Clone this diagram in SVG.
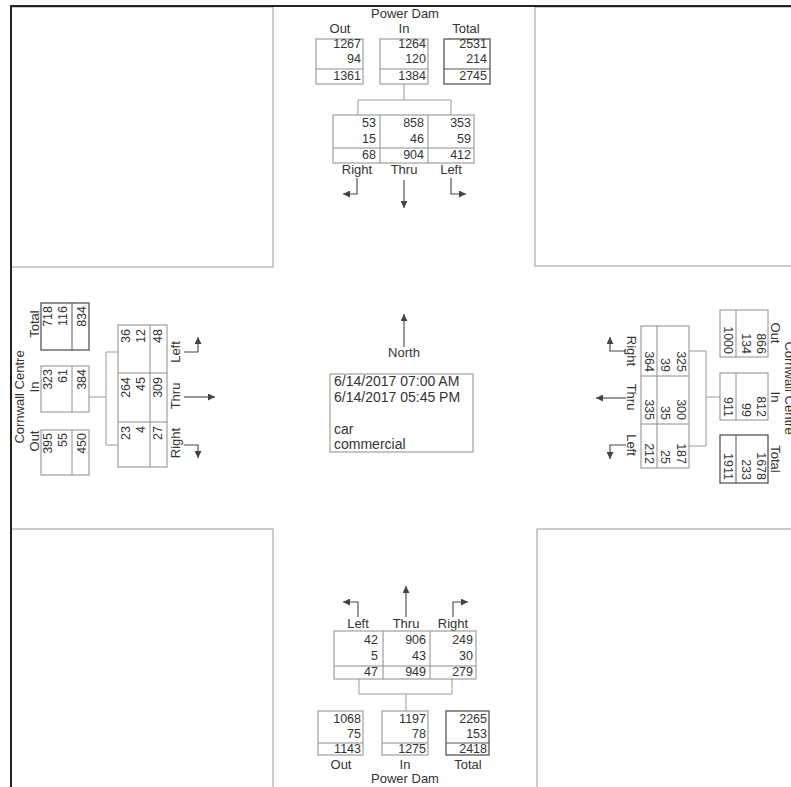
<svg xmlns="http://www.w3.org/2000/svg" width="791" height="787" viewBox="0 0 791 787">
<defs>
<marker id="ah" viewBox="0 0 10 10" refX="10" refY="5" markerWidth="7" markerHeight="7" orient="auto" markerUnits="userSpaceOnUse"><path d="M0,0 L10,5 L0,10 z" fill="#444"/></marker>
</defs>
<style>
.bg{fill:#fff}
.quad{fill:none;stroke:#9a9a9a;stroke-width:1}
.frame{fill:none;stroke:#222;stroke-width:2}
.box{fill:none;stroke:#8c8c8c;stroke-width:1}
.tbox{fill:none;stroke:#555;stroke-width:1.3}
.sep{stroke:#8c8c8c;stroke-width:1}
.t{font-family:"Liberation Sans",Arial,sans-serif;font-size:13px;fill:#333}
.i{font-size:14px}
.n{font-family:"Liberation Sans",Arial,sans-serif;font-size:12.5px;fill:#333;text-anchor:end}
.c{text-anchor:middle}
.con{fill:none;stroke:#9a9a9a;stroke-width:1}
.arr{fill:none;stroke:#444;stroke-width:1.1;marker-end:url(#ah)}
</style>
<rect class="bg" x="0" y="0" width="791" height="787"/>
<g id="background">
<rect class="quad" x="11" y="7" width="262" height="260"/>
<rect class="quad" x="535" y="7" width="260" height="259"/>
<rect class="quad" x="11" y="529" width="262" height="262"/>
<rect class="quad" x="537" y="529" width="260" height="262"/>
<path class="frame" d="M11,787 V6 H791"/>
</g>

<g id="connectors">
<path class="con" d="M404,84 V100 M358,115 V100 H451 V115"/>
<path class="con" d="M359,679 V694 H452 V679 M406,694 V711"/>
<path class="con" d="M89,397 H106 M117,352 H106 V445 H117"/>
<path class="con" d="M720,397 H706 M689,351 H706 V446 H689"/>
</g>

<g id="north-approach">
<text class="t c" x="405" y="18">Power Dam</text>
<text class="t c" x="340" y="33">Out</text>
<text class="t c" x="404" y="33">In</text>
<text class="t c" x="466" y="33">Total</text>
<rect class="box" x="316" y="39" width="47" height="45"/><line class="sep" x1="316" y1="69" x2="363" y2="69"/>
<rect class="box" x="380" y="39" width="48" height="45"/><line class="sep" x1="380" y1="69" x2="428" y2="69"/>
<rect class="tbox" x="444" y="39" width="46" height="45"/><line class="sep" x1="444" y1="69" x2="490" y2="69" style="stroke:#555"/>
<text class="n" x="361" y="48">1267</text><text class="n" x="361" y="63">94</text><text class="n" x="361" y="80">1361</text>
<text class="n" x="426" y="48">1264</text><text class="n" x="426" y="63">120</text><text class="n" x="426" y="80">1384</text>
<text class="n" x="487" y="48">2531</text><text class="n" x="487" y="63">214</text><text class="n" x="487" y="80">2745</text>
<rect class="box" x="333" y="115" width="141" height="48"/>
<path class="sep" d="M380,115 V163 M428,115 V163 M333,148 H474"/>
<text class="n" x="376" y="127">53</text><text class="n" x="376" y="143">15</text><text class="n" x="376" y="159">68</text>
<text class="n" x="424" y="127">858</text><text class="n" x="424" y="143">46</text><text class="n" x="424" y="159">904</text>
<text class="n" x="471" y="127">353</text><text class="n" x="471" y="143">59</text><text class="n" x="471" y="159">412</text>
<text class="t c" x="357" y="174">Right</text>
<text class="t c" x="404" y="174">Thru</text>
<text class="t c" x="451" y="174">Left</text>
<path class="arr" d="M357,178 V194 H343"/>
<path class="arr" d="M404,180 V208"/>
<path class="arr" d="M451,178 V194 H466"/>
</g>

<g id="south-approach">
<path class="arr" d="M358,617 V602 H343"/>
<path class="arr" d="M406,617 V586"/>
<path class="arr" d="M453,617 V602 H468"/>
<text class="t c" x="358" y="628">Left</text>
<text class="t c" x="406" y="628">Thru</text>
<text class="t c" x="453" y="628">Right</text>
<rect class="box" x="334" y="631" width="142" height="48"/>
<path class="sep" d="M383,631 V679 M430,631 V679 M334,666 H476"/>
<text class="n" x="378" y="644">42</text><text class="n" x="378" y="660">5</text><text class="n" x="378" y="676">47</text>
<text class="n" x="426" y="644">906</text><text class="n" x="426" y="660">43</text><text class="n" x="426" y="676">949</text>
<text class="n" x="473" y="644">249</text><text class="n" x="473" y="660">30</text><text class="n" x="473" y="676">279</text>
<rect class="box" x="318" y="711" width="45" height="44"/><line class="sep" x1="318" y1="743" x2="363" y2="743"/>
<rect class="box" x="382" y="711" width="46" height="44"/><line class="sep" x1="382" y1="743" x2="428" y2="743"/>
<rect class="tbox" x="446" y="711" width="43" height="44"/><line class="sep" x1="446" y1="743" x2="489" y2="743" style="stroke:#555"/>
<text class="n" x="361" y="723">1068</text><text class="n" x="361" y="738">75</text><text class="n" x="361" y="753">1143</text>
<text class="n" x="426" y="723">1197</text><text class="n" x="426" y="738">78</text><text class="n" x="426" y="753">1275</text>
<text class="n" x="487" y="723">2265</text><text class="n" x="487" y="738">153</text><text class="n" x="487" y="753">2418</text>
<text class="t c" x="341" y="769">Out</text>
<text class="t c" x="405" y="769">In</text>
<text class="t c" x="468" y="769">Total</text>
<text class="t c" x="405" y="783">Power Dam</text>
</g>

<g id="west-approach">
<text class="t c" transform="translate(24,397) rotate(-90)">Cornwall Centre</text>
<text class="t c" transform="translate(39,324) rotate(-90)">Total</text>
<text class="t c" transform="translate(39,387) rotate(-90)">In</text>
<text class="t c" transform="translate(39,441) rotate(-90)">Out</text>
<rect class="tbox" x="41" y="303" width="48" height="47"/><line class="sep" x1="72" y1="303" x2="72" y2="350" style="stroke:#555"/>
<rect class="box" x="41" y="366" width="48" height="46"/><line class="sep" x1="72" y1="366" x2="72" y2="412"/>
<rect class="box" x="41" y="430" width="48" height="45"/><line class="sep" x1="72" y1="430" x2="72" y2="475"/>
<text class="n" transform="translate(52,306) rotate(-90)">718</text><text class="n" transform="translate(67,306) rotate(-90)">116</text><text class="n" transform="translate(86,306) rotate(-90)">834</text>
<text class="n" transform="translate(52,369) rotate(-90)">323</text><text class="n" transform="translate(67,369) rotate(-90)">61</text><text class="n" transform="translate(86,369) rotate(-90)">384</text>
<text class="n" transform="translate(52,433) rotate(-90)">395</text><text class="n" transform="translate(67,433) rotate(-90)">55</text><text class="n" transform="translate(86,433) rotate(-90)">450</text>
<rect class="box" x="118" y="325" width="49" height="142"/>
<path class="sep" d="M118,373 H167 M118,422 H167 M150,325 V467"/>
<text class="n" transform="translate(130,329) rotate(-90)">36</text><text class="n" transform="translate(145,329) rotate(-90)">12</text><text class="n" transform="translate(162,329) rotate(-90)">48</text>
<text class="n" transform="translate(130,377) rotate(-90)">264</text><text class="n" transform="translate(145,377) rotate(-90)">45</text><text class="n" transform="translate(162,377) rotate(-90)">309</text>
<text class="n" transform="translate(130,426) rotate(-90)">23</text><text class="n" transform="translate(145,426) rotate(-90)">4</text><text class="n" transform="translate(162,426) rotate(-90)">27</text>
<text class="t c" transform="translate(180,352) rotate(-90)">Left</text>
<text class="t c" transform="translate(180,396) rotate(-90)">Thru</text>
<text class="t c" transform="translate(180,443) rotate(-90)">Right</text>
<path class="arr" d="M184,352 H198 V337"/>
<path class="arr" d="M184,397 H215"/>
<path class="arr" d="M184,445 H198 V458"/>
</g>

<g id="east-approach">
<text class="t c" transform="translate(785,388) rotate(90)">Cornwall Centre</text>
<text class="t c" transform="translate(771,333) rotate(90)">Out</text>
<text class="t c" transform="translate(771,397) rotate(90)">In</text>
<text class="t c" transform="translate(771,459) rotate(90)">Total</text>
<rect class="box" x="720" y="310" width="48" height="47"/><line class="sep" x1="736" y1="310" x2="736" y2="357"/>
<rect class="box" x="720" y="373" width="48" height="47"/><line class="sep" x1="736" y1="373" x2="736" y2="420"/>
<rect class="tbox" x="720" y="435" width="48" height="48"/><line class="sep" x1="736" y1="435" x2="736" y2="483" style="stroke:#555"/>
<text class="n" transform="translate(757,354) rotate(90)">866</text><text class="n" transform="translate(742,354) rotate(90)">134</text><text class="n" transform="translate(724,354) rotate(90)">1000</text>
<text class="n" transform="translate(757,417) rotate(90)">812</text><text class="n" transform="translate(742,417) rotate(90)">99</text><text class="n" transform="translate(724,417) rotate(90)">911</text>
<text class="n" transform="translate(757,480) rotate(90)">1678</text><text class="n" transform="translate(742,480) rotate(90)">233</text><text class="n" transform="translate(724,480) rotate(90)">1911</text>
<rect class="box" x="641" y="326" width="48" height="142"/>
<path class="sep" d="M641,376 H689 M641,424 H689 M657,326 V468"/>
<text class="n" transform="translate(677,372) rotate(90)">325</text><text class="n" transform="translate(661,372) rotate(90)">39</text><text class="n" transform="translate(645,372) rotate(90)">364</text>
<text class="n" transform="translate(677,420) rotate(90)">300</text><text class="n" transform="translate(661,420) rotate(90)">35</text><text class="n" transform="translate(645,420) rotate(90)">335</text>
<text class="n" transform="translate(677,464) rotate(90)">187</text><text class="n" transform="translate(661,464) rotate(90)">25</text><text class="n" transform="translate(645,464) rotate(90)">212</text>
<text class="t c" transform="translate(627,351) rotate(90)">Right</text>
<text class="t c" transform="translate(627,397) rotate(90)">Thru</text>
<text class="t c" transform="translate(627,445) rotate(90)">Left</text>
<path class="arr" d="M626,351 H610 V337"/>
<path class="arr" d="M626,398 H596"/>
<path class="arr" d="M626,445 H610 V459"/>
</g>

<g id="center">
<path class="arr" d="M404,347 V314"/>
<text class="t c" x="404" y="357">North</text>
<rect class="box" x="330" y="374" width="143" height="78"/>
<text class="t i" x="334" y="386">6/14/2017 07:00 AM</text>
<text class="t i" x="334" y="402">6/14/2017 05:45 PM</text>
<text class="t i" x="334" y="434">car</text>
<text class="t i" x="334" y="449">commercial</text>
</g>
</svg>
